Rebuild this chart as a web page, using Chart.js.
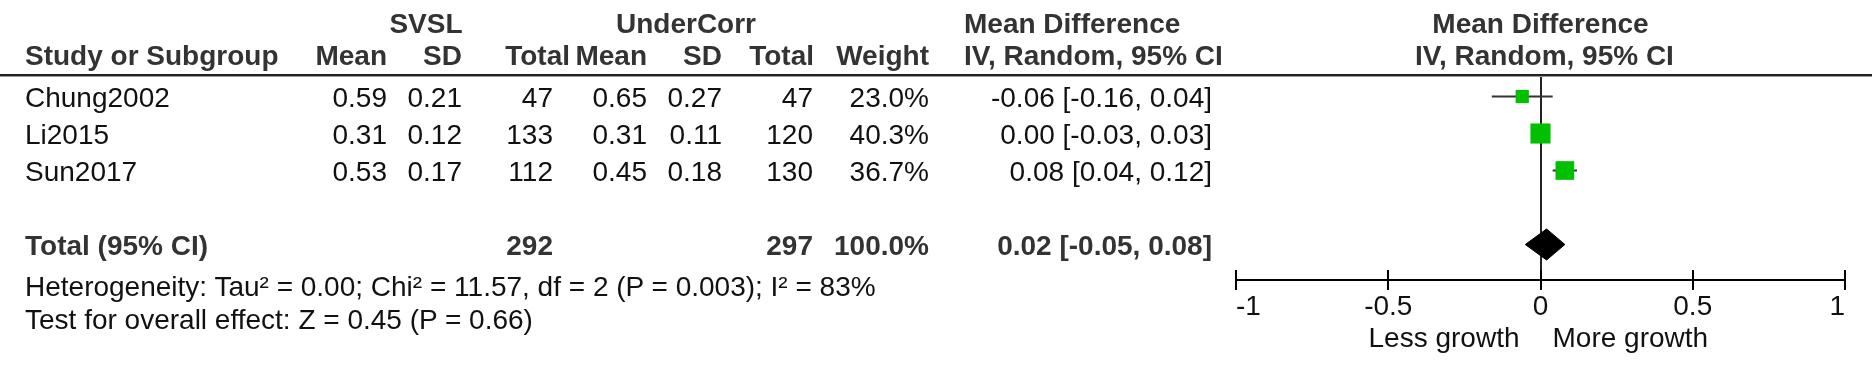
<!DOCTYPE html>
<html><head><meta charset="utf-8">
<script src="https://cdn.jsdelivr.net/npm/chart.js@4.4.0/dist/chart.umd.min.js"></script>
<style>
html,body{margin:0;padding:0;background:#fff;}
#wrap{position:relative;width:1872px;height:374px;overflow:hidden;font-family:"Liberation Sans",Arial,sans-serif;font-size:28px;line-height:32px;color:#111;}
canvas{position:absolute;left:0;top:0;}
.t{position:absolute;white-space:nowrap;}
.b{font-weight:bold;color:#333;}
#rule{position:absolute;left:0;top:74px;width:1872px;height:2px;background:#222;border-bottom:1px solid #999;}
</style></head><body>
<div id="wrap"><canvas id="c" width="1872" height="374"></canvas><div id="rule"></div></div>
<script>
// ---- data ----
const studies   = ['Chung2002', 'Li2015', 'Sun2017'];
const svslMean  = [0.59, 0.31, 0.53];
const svslSD    = [0.21, 0.12, 0.17];
const svslN     = [47, 133, 112];
const ucMean    = [0.65, 0.31, 0.45];
const ucSD      = [0.27, 0.11, 0.18];
const ucN       = [47, 120, 130];
const weight    = [23.0, 40.3, 36.7];
const md        = [-0.06, 0.00, 0.08];
const mdLo      = [-0.16, -0.03, 0.04];
const mdHi      = [0.04, 0.03, 0.12];
const totalN    = [292, 297];
const totalWeight = 100.0;
const pooled    = [0.02, -0.05, 0.08]; // estimate, lower, upper
const xTicks    = [-1, -0.5, 0, 0.5, 1];
const xTickLabels = ['-1', '-0.5', '0', '0.5', '1'];
const groupLabels = ['SVSL', 'UnderCorr'];
const heterogeneity = 'Heterogeneity: Tau\u00b2 = 0.00; Chi\u00b2 = 11.57, df = 2 (P = 0.003); I\u00b2 = 83%';
const overallTest = 'Test for overall effect: Z = 0.45 (P = 0.66)';
const favourLabels = ['Less growth', 'More growth'];

// ---- layout constants ----
const W = 1872, H = 374;
const TOP = 75, AXIS = 280, ROW0 = 96.5, PITCH = 37;
const TOTAL_ROW = 4;
const DIAMOND_HALF = 0.42;
const FONT = '"Liberation Sans", Arial, sans-serif';

const fmt2 = v => v.toFixed(2);
const ciText = (e, l, u) => `${fmt2(e)} [${fmt2(l)}, ${fmt2(u)}]`;

const tickMarks = {
  id: 'tickMarks',
  afterDraw(chart) {
    const s = chart.scales.x, ctx = chart.ctx, yb = chart.chartArea.bottom;
    ctx.save();
    ctx.strokeStyle = '#000'; ctx.lineWidth = 2;
    s.ticks.forEach(t => {
      const x = Math.round(s.getPixelForValue(t.value));
      ctx.beginPath(); ctx.moveTo(x, yb - 10); ctx.lineTo(x, yb + 10); ctx.stroke();
    });
    ctx.restore();
  }
};

const ciSets = studies.map((s, i) => ({
  type: 'line',
  data: [{x: mdLo[i], y: i}, {x: mdHi[i], y: i}],
  borderColor: '#333', borderWidth: 2, pointRadius: 0, fill: false, order: 2
}));

const chart = new Chart(document.getElementById('c'), {
  type: 'scatter',
  data: {
    datasets: [
      {
        type: 'scatter',
        data: studies.map((s, i) => ({x: md[i], y: i})),
        pointStyle: 'rect',
        pointRadius: weight.map(w => (4 + 0.4 * w) / Math.SQRT2),
        backgroundColor: '#00c000', borderWidth: 0, order: 0
      },
      {
        type: 'line',
        data: [
          {x: pooled[1], y: TOTAL_ROW},
          {x: pooled[0], y: TOTAL_ROW - DIAMOND_HALF},
          {x: pooled[2], y: TOTAL_ROW},
          {x: pooled[0], y: TOTAL_ROW + DIAMOND_HALF},
          {x: pooled[1], y: TOTAL_ROW}
        ],
        borderColor: '#000', borderWidth: 1, backgroundColor: '#000',
        fill: 'shape', pointRadius: 0, tension: 0, order: 0
      },
      ...ciSets
    ]
  },
  options: {
    responsive: false, animation: false, devicePixelRatio: 1, events: [],
    layout: {padding: {left: 1236, right: W - 1845, top: TOP, bottom: 0}},
    plugins: {legend: {display: false}, tooltip: {enabled: false}},
    scales: {
      x: {
        type: 'linear', min: -1, max: 1,
        afterBuildTicks: s => { s.ticks = xTicks.map(v => ({value: v})); },
        ticks: {
          callback: (v, i) => xTickLabels[i],
          font: {family: FONT, size: 28}, color: '#111',
          padding: 10, maxRotation: 0, autoSkip: false, align: 'inner'
        },
        grid: {
          drawTicks: false, drawOnChartArea: true, lineWidth: 2,
          color: c => (c.tick && c.tick.value === 0) ? '#222' : 'rgba(0,0,0,0)'
        },
        border: {display: true, color: '#000', width: 2},
        afterFit: s => { s.height = H - AXIS; }
      },
      y: {
        type: 'linear', display: false, reverse: true,
        min: (TOP - ROW0) / PITCH, max: (AXIS - ROW0) / PITCH
      }
    }
  },
  plugins: [tickMarks]
});

// ---- text (HTML) ----
const wrap = document.getElementById('wrap');
function put(text, x, y, align, bold) {
  const d = document.createElement('div');
  d.className = 't' + (bold ? ' b' : '');
  d.textContent = text;
  d.style.top = (y - 16) + 'px';
  if (align === 'right') { d.style.left = (x - 600) + 'px'; d.style.width = '600px'; d.style.textAlign = 'right'; }
  else if (align === 'center') { d.style.left = (x - 400) + 'px'; d.style.width = '800px'; d.style.textAlign = 'center'; }
  else { d.style.left = x + 'px'; }
  wrap.appendChild(d);
}
const ys = chart.scales.y, xs = chart.scales.x;
const rowY = i => ys.getPixelForValue(i) + 1.5;
const zeroX = xs.getPixelForValue(0);
const plotMid = (xs.left + xs.right) / 2;

const H1 = 24, H2 = 56;
put(groupLabels[0], 426, H1, 'center', true);
put(groupLabels[1], 686, H1, 'center', true);
put('Mean Difference', 964, H1, 'left', true);
put('Mean Difference', plotMid, H1, 'center', true);

put('Study or Subgroup', 25, H2, 'left', true);
put('Mean', 387, H2, 'right', true);
put('SD', 462, H2, 'right', true);
put('Total', 570, H2, 'right', true);
put('Mean', 647, H2, 'right', true);
put('SD', 722, H2, 'right', true);
put('Total', 814, H2, 'right', true);
put('Weight', 929, H2, 'right', true);
put('IV, Random, 95% CI', 964, H2, 'left', true);
put('IV, Random, 95% CI', plotMid + 4, H2, 'center', true);

studies.forEach((s, i) => {
  const y = rowY(i);
  put(s, 25, y, 'left');
  put(fmt2(svslMean[i]), 387, y, 'right');
  put(fmt2(svslSD[i]), 462, y, 'right');
  put(String(svslN[i]), 553, y, 'right');
  put(fmt2(ucMean[i]), 647, y, 'right');
  put(fmt2(ucSD[i]), 722, y, 'right');
  put(String(ucN[i]), 813, y, 'right');
  put(weight[i].toFixed(1) + '%', 929, y, 'right');
  put(ciText(md[i], mdLo[i], mdHi[i]), 1212, y, 'right');
});

const ty = rowY(TOTAL_ROW);
put('Total (95% CI)', 25, ty, 'left', true);
put(String(totalN[0]), 553, ty, 'right', true);
put(String(totalN[1]), 813, ty, 'right', true);
put(totalWeight.toFixed(1) + '%', 929, ty, 'right', true);
put(ciText(pooled[0], pooled[1], pooled[2]), 1212, ty, 'right', true);

put(heterogeneity, 25, 287, 'left');
put(overallTest, 25, 320, 'left');

put(favourLabels[0], zeroX - 21, 338, 'right');
put(favourLabels[1], zeroX + 12, 338, 'left');
</script>
</body></html>
